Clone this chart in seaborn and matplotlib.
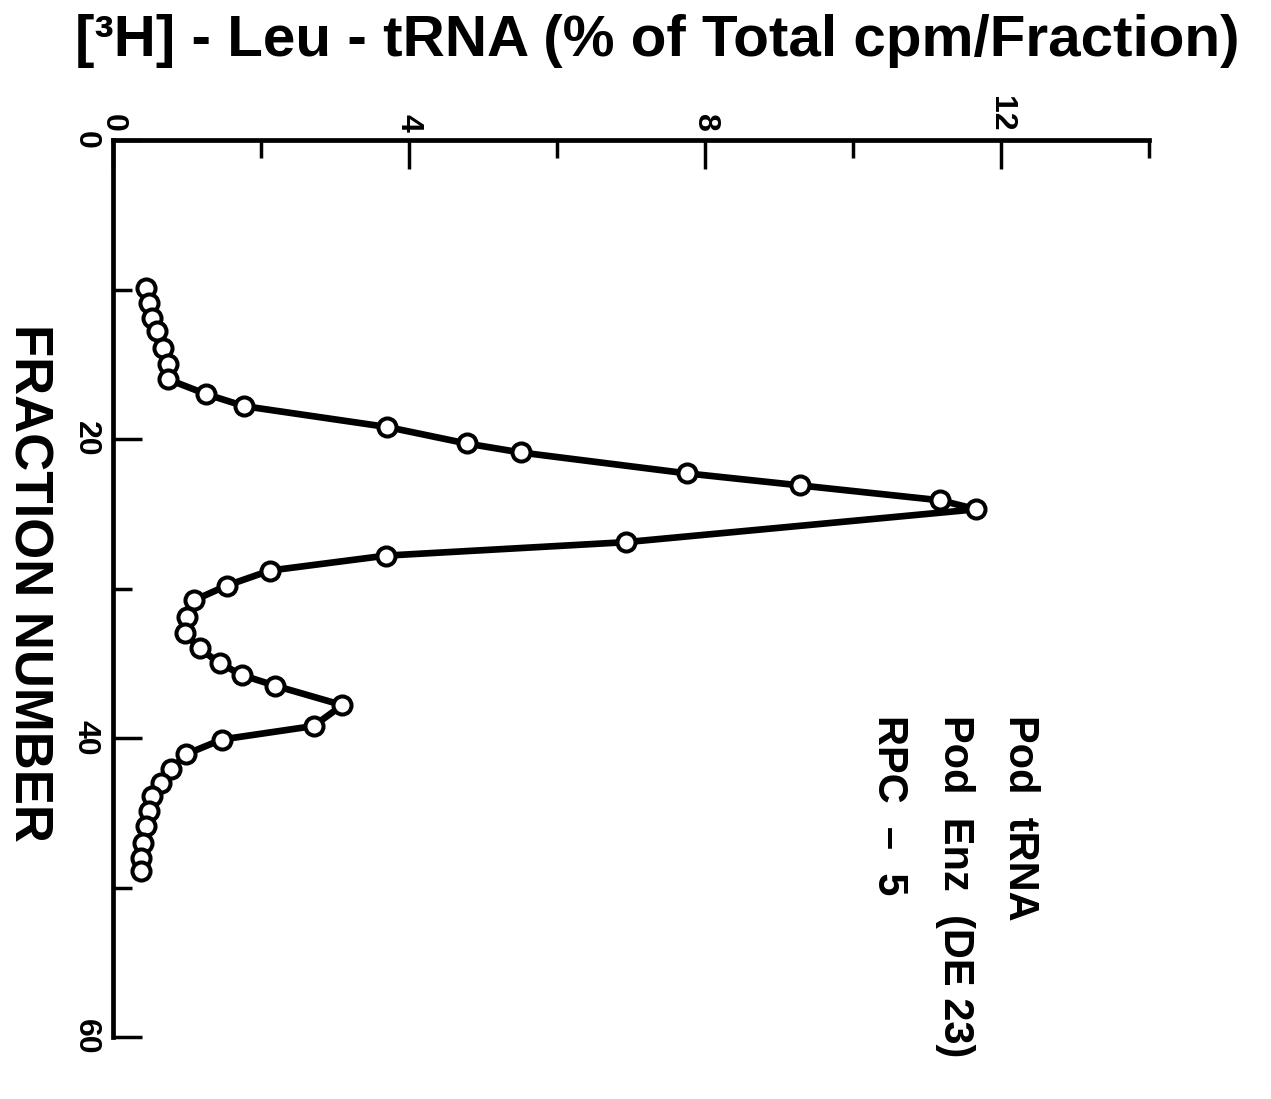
import matplotlib
matplotlib.use("Agg")
import matplotlib.pyplot as plt
import seaborn as sns
import pandas as pd

# ---- data ----
fraction = [9.9, 10.9, 11.9, 12.8, 13.9, 15.0, 16.0, 17.0, 17.8, 19.2,
            20.3, 20.9, 22.3, 23.1, 24.1, 24.7, 26.9, 27.8, 28.8, 29.8,
            30.8, 31.9, 33.0, 34.0, 35.0, 35.8, 36.5, 37.8, 39.2, 40.1,
            41.1, 42.1, 43.0, 43.9, 44.9, 45.9, 47.0, 48.0, 48.9]
percent = [0.45, 0.49, 0.53, 0.60, 0.68, 0.74, 0.74, 1.26, 1.77, 3.71,
           4.78, 5.51, 7.76, 9.28, 11.18, 11.67, 6.93, 3.69, 2.12, 1.54,
           1.09, 1.00, 0.97, 1.17, 1.44, 1.75, 2.19, 3.10, 2.71, 1.47,
           0.98, 0.79, 0.65, 0.53, 0.48, 0.45, 0.40, 0.38, 0.38]

value_major = [0, 4, 8, 12]
value_minor = [2, 6, 10, 14]
value_labels = ["0", "4", "8", "12"]
frac_major = [0, 20, 40, 60]
frac_minor = [10, 30, 50]
frac_labels = ["0", "20", "40", "60"]

title = "[³H] - Leu - tRNA (% of Total cpm/Fraction)"
frac_title = "FRACTION NUMBER"
legend_lines = ["Pod  tRNA", "Pod  Enz  (DE 23)", "RPC  –  5"]

# ---- style ----
sns.set_theme(style="white")
plt.rcParams["font.family"] = ["Liberation Sans", "DejaVu Sans"]
plt.rcParams["text.color"] = "black"
plt.rcParams["xtick.color"] = "black"
plt.rcParams["ytick.color"] = "black"

fig = plt.figure(figsize=(12.71, 10.99), dpi=100)
fig.patch.set_facecolor("white")
ax = fig.add_axes([0.0889, 0.0564, 0.815, 0.8162])
ax.set_facecolor("white")

df = pd.DataFrame({"fraction": fraction, "percent": percent})
sns.lineplot(data=df, x="percent", y="fraction", sort=False, ax=ax,
             color="black", linewidth=4.8, marker="o", markersize=13,
             markerfacecolor="white", markeredgecolor="black",
             markeredgewidth=2.9, estimator=None)

ax.set_xlim(0, 14)
ax.set_ylim(60, 0)

for s in ["right", "bottom"]:
    ax.spines[s].set_visible(False)
for s in ["top", "left"]:
    ax.spines[s].set_linewidth(3.4)
    ax.spines[s].set_color("black")

ax.xaxis.tick_top()
ax.set_xticks(value_major, value_labels)
ax.set_xticks(value_minor, minor=True)
ax.set_yticks(frac_major, frac_labels)
ax.set_yticks(frac_minor, minor=True)
ax.tick_params(axis="x", which="both", direction="in", top=True, bottom=False,
               labeltop=True, labelbottom=False, width=2.5, color="black",
               pad=6, labelrotation=-90, labelsize=23, labelcolor="black")
ax.tick_params(axis="x", which="major", length=21)
ax.tick_params(axis="x", which="minor", length=13)
ax.tick_params(axis="y", which="both", direction="in", left=True, right=False,
               width=2.5, color="black", pad=9, labelrotation=-90,
               labelsize=23, labelcolor="black")
ax.tick_params(axis="y", which="major", length=21)
ax.tick_params(axis="y", which="minor", length=14)
for t in ax.xaxis.get_major_ticks():
    t.label1.set_fontweight("bold")
    t.label2.set_fontweight("bold")
for t in ax.yaxis.get_major_ticks():
    t.label1.set_fontweight("bold")
    t.label1.set_verticalalignment("center")
ax.set_xlabel("")
ax.set_ylabel("")

# ---- texts ----
fig.text(0.517, 0.963, title, ha="center", va="center", fontsize=42,
         fontweight="bold")
fig.text(0.0225, 0.470, frac_title, ha="center", va="center", rotation=-90,
         fontsize=38, fontweight="bold")
col_x = [1020, 955, 889]
for txt, cx in zip(legend_lines, col_x):
    fig.text(cx / 1271, 1 - 715 / 1099, txt, ha="center", va="top",
             rotation=-90, fontsize=30, fontweight="bold")

fig.savefig("out.png", dpi=100, facecolor="white")
